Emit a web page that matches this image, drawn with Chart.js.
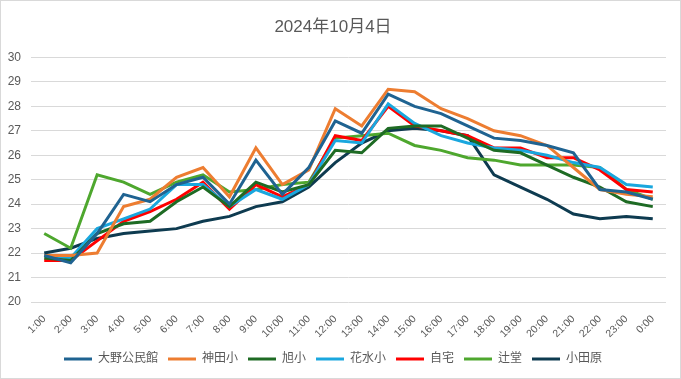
<!DOCTYPE html>
<html><head><meta charset="utf-8">
<script src="https://cdn.jsdelivr.net/npm/chart.js@4"></script>
<style>html,body{margin:0;padding:0;background:#fff}#w{width:681px;height:379px;position:relative}</style>
</head><body><div id="w"><canvas id="c"></canvas></div>
<script>
const categories = ["1:00","2:00","3:00","4:00","5:00","6:00","7:00","8:00","9:00","10:00","11:00","12:00","13:00","14:00","15:00","16:00","17:00","18:00","19:00","20:00","21:00","22:00","23:00","0:00"];
const oono   = [21.9,21.6,22.8,24.4,24.1,24.8,25.1,24.0,25.8,24.4,25.5,27.4,26.9,28.5,28.0,27.7,27.2,26.7,26.6,26.4,26.1,24.6,24.5,24.2];
const kanda  = [21.9,21.9,22.0,23.9,24.2,25.1,25.5,24.3,26.3,24.8,25.4,27.9,27.2,28.7,28.6,27.9,27.5,27.0,26.8,26.4,25.5,24.6,24.4,24.3];
const asahi  = [21.8,21.7,22.8,23.2,23.3,24.1,24.7,23.9,24.9,24.5,24.8,26.2,26.1,27.1,27.2,27.2,26.7,26.2,26.1,25.6,25.1,24.7,24.1,23.9];
const hanamizu = [21.9,21.8,23.0,23.4,23.8,24.8,24.8,23.9,24.6,24.2,24.8,26.6,26.5,28.1,27.3,26.8,26.5,26.3,26.2,26.0,25.7,25.5,24.8,24.7];
const jitaku = [21.7,21.7,22.5,23.3,23.7,24.2,24.9,23.8,24.8,24.3,24.8,26.8,26.6,28.0,27.2,27.0,26.8,26.3,26.3,25.9,25.9,25.4,24.6,24.5];
const tsujido = [22.8,22.2,25.2,24.9,24.4,24.9,25.2,24.5,24.6,24.8,24.9,26.7,26.8,26.9,26.4,26.2,25.9,25.8,25.6,25.6,25.6,25.5,24.6,24.2];
const odawara = [22.0,22.2,22.6,22.8,22.9,23.0,23.3,23.5,23.9,24.1,24.7,25.7,26.5,27.0,27.1,27.0,26.8,25.2,24.7,24.2,23.6,23.4,23.5,23.4];
const seriesNames = ["大野公民館","神田小","旭小","花水小","自宅","辻堂","小田原"];
const seriesData = [oono,kanda,asahi,hanamizu,jitaku,tsujido,odawara];
const colors = ["#1F6391","#ED7D31","#1E6B24","#1AA7DE","#FF0000","#4EA72E","#0E3B50"];
const yTicks = {min:20,max:30,step:1};

const FONT = '"Liberation Sans","Noto Sans CJK JP",sans-serif';
const borderPlugin = {id:'bd', afterDraw(ch){const c=ch.ctx;c.save();c.strokeStyle='#D9D9D9';c.lineWidth=1;c.strokeRect(0.5,0.5,ch.width-1,ch.height-1);c.restore();}};

new Chart(document.getElementById('c'), {
  type:'line',
  data:{labels:categories, datasets: seriesNames.map((n,i)=>({label:n,data:seriesData[i],borderColor:colors[i],backgroundColor:colors[i],borderWidth:3,pointRadius:0,tension:0,fill:false}))},
  options:{
    responsive:true, maintainAspectRatio:false, animation:false,
    layout:{padding:{left:0,right:15,top:11,bottom:4}},
    plugins:{
      title:{display:true,text:"2024年10月4日",color:'#595959',font:{family:FONT,size:17,weight:'normal'},padding:{top:6,bottom:20}},
      legend:{position:'bottom',labels:{usePointStyle:true,pointStyle:'line',pointStyleWidth:28,color:'#595959',font:{family:FONT,size:12},padding:10,boxHeight:12}},
      tooltip:{enabled:false}
    },
    scales:{
      x:{offset:true,grid:{display:false},border:{display:false},ticks:{color:'#595959',font:{family:FONT,size:10.5},maxRotation:45,minRotation:45,autoSkip:false,padding:2.75}},
      y:{min:yTicks.min,max:yTicks.max,afterFit:s=>{s.width=31;},grid:{color:'#D9D9D9',drawTicks:false},border:{display:false},ticks:{stepSize:yTicks.step,color:'#595959',font:{family:FONT,size:12},padding:10}}
    }
  },
  plugins:[borderPlugin]
});
</script></body></html>
